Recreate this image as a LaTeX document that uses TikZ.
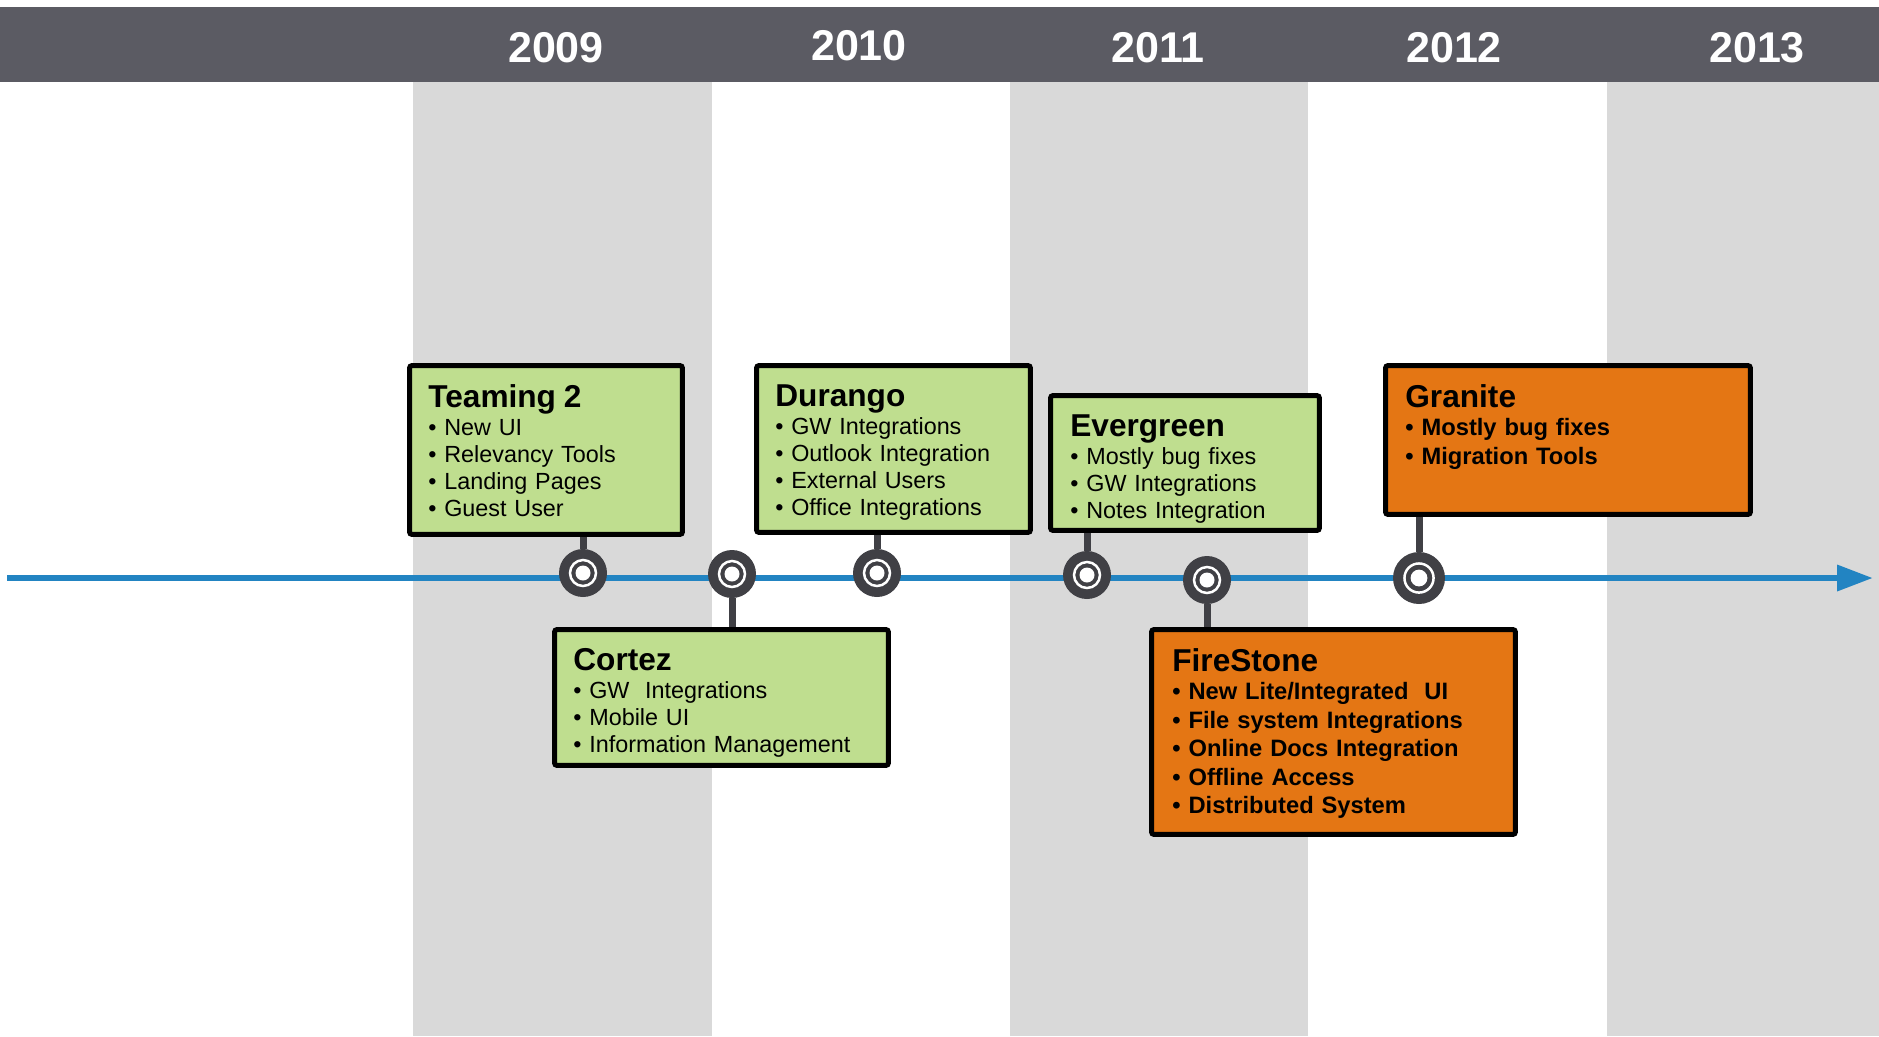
\documentclass[tikz,border=0pt]{standalone}
\usepackage{fontspec}
\setmainfont{Liberation Sans}
\usetikzlibrary{arrows.meta,positioning}

\definecolor{barcol}{HTML}{5B5B63}
\definecolor{colcol}{HTML}{D9D9D9}
\definecolor{lineblue}{HTML}{2284C2}
\definecolor{markcol}{HTML}{404045}
\definecolor{relgreen}{HTML}{BFDE8F}
\definecolor{relorange}{HTML}{E47614}

\newcommand{\reltitle}[1]{{\fontsize{18}{15.4}\selectfont\bfseries #1}}

\tikzset{
  year/.style={anchor=base, text=white, font=\fontsize{24.5}{24.5}\selectfont\bfseries},
  relbox/.style={draw=black, line width=0.1cm, rounded corners=1.5pt, anchor=north west, inner sep=0pt},
  greenbox/.style={relbox, fill=relgreen},
  orangebox/.style={relbox, fill=relorange},
  greentext/.style={inner sep=0pt, align=left, font=\fontsize{13.3}{15.4}\selectfont},
  orangetext/.style={inner sep=0pt, align=left, font=\fontsize{13.5}{16.2}\selectfont\bfseries},
  marker/.style={circle, fill=markcol, minimum size=0.96cm, inner sep=0pt},
  stem/.style={draw=markcol, line width=0.14cm},
  timeline/.style={draw=lineblue, line width=0.13cm, -{Triangle[length=0.72cm, width=0.5cm]}}
}

\begin{document}
\begin{tikzpicture}[x=0.02cm, y=-0.02cm]
    \useasboundingbox (0,0) rectangle (1879,1036);

    % Year columns and header bar
    \fill[colcol] (413,82) rectangle (712,1036);
    \fill[colcol] (1010,82) rectangle (1308,1036);
    \fill[colcol] (1607,82) rectangle (1879,1036);
    \fill[barcol] (0,7) rectangle (1879,82);

    % Years
    \node[year] (y2009) at (556,62) {2009};
    \node[year] (y2010) at (859,60) {2010};
    \node[year] (y2011) at (1158,62) {2011};
    \node[year] (y2012) at (1454,62) {2012};
    \node[year] (y2013) at (1757,62) {2013};

    % Time axis
    \coordinate (tl start) at (7,578);
    \coordinate (tl end) at (1873,578);
    \draw[timeline] (tl start) -- (tl end);

    % Release boxes
    \node[greenbox, minimum width=5.46cm, minimum height=3.38cm] (teaming) at (407,363) {};
    \node[greentext, text width=5cm, below right=0.42cm and 0.42cm of teaming.north west] (teaming text)
      {\reltitle{Teaming 2}\\[0.5pt] •~New UI\\ •~Relevancy Tools\\ •~Landing Pages\\ •~Guest User};

    \node[greenbox, minimum width=5.48cm, minimum height=3.34cm] (durango) at (754,363) {};
    \node[greentext, text width=5cm, below right=0.42cm and 0.42cm of durango.north west] (durango text)
      {\reltitle{Durango}\\[0.5pt] •~GW Integrations\\ •~Outlook Integration\\ •~External Users\\ •~Office Integrations};

    \node[greenbox, minimum width=5.38cm, minimum height=2.70cm] (evergreen) at (1048,393) {};
    \node[greentext, text width=5cm, below right=0.42cm and 0.44cm of evergreen.north west] (evergreen text)
      {\reltitle{Evergreen}\\[0.5pt] •~Mostly bug fixes\\ •~GW Integrations\\ •~Notes Integration};

    \node[orangebox, minimum width=7.30cm, minimum height=2.98cm] (granite) at (1383,363) {};
    \node[orangetext, text width=6.8cm, below right=0.42cm and 0.44cm of granite.north west] (granite text)
      {\reltitle{Granite}\\ •~Mostly bug fixes\\ •~Migration Tools};

    \node[greenbox, minimum width=6.68cm, minimum height=2.72cm] (cortez) at (552,627) {};
    \node[greentext, text width=6.2cm, below right=0.42cm and 0.42cm of cortez.north west] (cortez text)
      {\reltitle{Cortez}\\[0.5pt] •~GW\ \ Integrations\\ •~Mobile UI\\ •~Information Management};

    \node[orangebox, minimum width=7.28cm, minimum height=4.10cm] (firestone) at (1149,627) {};
    \node[orangetext, text width=6.8cm, below right=0.42cm and 0.46cm of firestone.north west] (firestone text)
      {\reltitle{FireStone}\\ •~New Lite/Integrated\ \ UI\\ •~File system Integrations\\ •~Online Docs Integration\\ •~Offline Access\\ •~Distributed System};

    % Markers on the axis
    \node[marker] (m teaming) at (583,573) {};
    \node[marker] (m cortez) at (732,574) {};
    \node[marker] (m durango) at (877,573) {};
    \node[marker] (m evergreen) at (1087,575) {};
    \node[marker] (m firestone) at (1207,580) {};
    \node[marker, minimum size=1.04cm] (m granite) at (1419,578) {};

    % Stems from boxes to markers
    \draw[stem] (teaming.south -| m teaming) -- (m teaming);
    \draw[stem] (durango.south -| m durango) -- (m durango);
    \draw[stem] (evergreen.south -| m evergreen) -- (m evergreen);
    \draw[stem] (granite.south -| m granite) -- (m granite);
    \draw[stem] (m cortez) -- (m cortez |- cortez.north);
    \draw[stem] (m firestone) -- (m firestone |- firestone.north);

    % White rings
    \foreach \m/\s in {m teaming/1, m cortez/1, m durango/1, m evergreen/1, m firestone/1, m granite/1.12} {
      \draw[white, line width=0.05cm] (\m) circle [radius=0.26cm*\s];
      \fill[white] (\m) circle [radius=0.15cm*\s];
    }
\end{tikzpicture}
\end{document}
